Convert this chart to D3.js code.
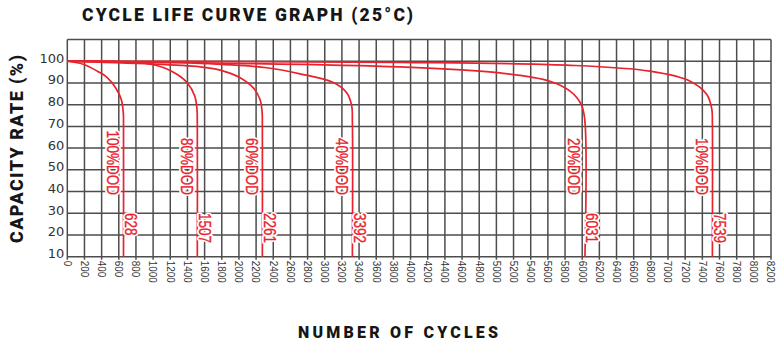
<!DOCTYPE html>
<html>
<head>
<meta charset="utf-8">
<script src="https://cdn.jsdelivr.net/npm/d3@7"></script>
<style>
  body { margin: 0; background: #fff; }
  svg { display: block; }
</style>
</head>
<body>
<svg id="chart"></svg>
<script>
// tick labels
const xTickValues = [0, 200, 400, 600, 800, 1000, 1200, 1400, 1600, 1800, 2000, 2200, 2400, 2600, 2800,
  3000, 3200, 3400, 3600, 3800, 4000, 4200, 4400, 4600, 4800, 5000, 5200, 5400, 5600, 5800, 6000,
  6200, 6400, 6600, 6800, 7000, 7200, 7400, 7600, 7800, 8000, 8200];
const yTickValues = [10, 20, 30, 40, 50, 60, 70, 80, 90, 100];

// series
const dodLabels = ["100%DOD", "80%DOD", "60%DOD", "40%DOD", "20%DOD", "10%DOD"];
const cycleLife = [628, 1507, 2261, 3392, 6031, 7539];

// [cycles, capacity %]
const curve100 = [[0, 100], [195, 98.5], [350, 95.4], [466, 92.4], [564, 87.7], [629, 82.4], [653, 76], [655, 70], [655, 10]];
const curve80 = [[0, 100], [932, 98.9], [1127, 97], [1282, 93.9], [1398, 90.1], [1485, 84], [1511, 78], [1515, 71], [1515, 10]];
const curve60 = [[0, 100], [1547, 97.4], [1780, 95.9], [2013, 92.4], [2168, 87.7], [2246, 82.4], [2270, 76.5], [2273, 70], [2273, 10]];
const curve40 = [[0, 100], [1547, 99], [2324, 97], [2712, 94.2], [3100, 90.2], [3256, 85.5], [3314, 79.5], [3322, 72], [3322, 10]];
const curve20 = [[0, 100], [1547, 99.3], [3877, 97.4], [5043, 94.6], [5625, 90.8], [5859, 86.2], [5990, 80], [6030, 73], [6032, 10]];
const curve10 = [[0, 100], [3877, 99.5], [5820, 98.2], [6791, 95.4], [7258, 90.8], [7452, 84.7], [7510, 78], [7517, 71], [7517, 10]];
const curves = [curve100, curve80, curve60, curve40, curve20, curve10];

const WIDTH = 781;
const HEIGHT = 352;
const MARGIN = { left: 67.3, right: 10, top: 39.5, bottom: 95.3 };

const svg = d3.select("#chart")
  .attr("width", WIDTH)
  .attr("height", HEIGHT);

svg.append("rect")
  .attr("width", "100%")
  .attr("height", "100%")
  .attr("fill", "white");

const x = d3.scaleLinear()
  .domain([0, 8200])
  .range([MARGIN.left, WIDTH - MARGIN.right]);

const y = d3.scaleLinear()
  .domain([10, 110])
  .range([HEIGHT - MARGIN.bottom, MARGIN.top]);

const GRID = "#4d4d4d";
const RED = "#e8232d";

// grid
const grid = svg.append("g");

grid.selectAll("line.v")
  .data(xTickValues)
  .join("line")
  .attr("class", "v")
  .attr("x1", d => x(d))
  .attr("x2", d => x(d))
  .attr("y1", y(110))
  .attr("y2", y(10) + 3)
  .attr("stroke", GRID)
  .attr("stroke-width", 1.5);

grid.selectAll("line.h")
  .data(yTickValues.concat([110]))
  .join("line")
  .attr("class", "h")
  .attr("x1", x(0))
  .attr("x2", x(8200))
  .attr("y1", d => y(d))
  .attr("y2", d => y(d))
  .attr("stroke", GRID)
  .attr("stroke-width", 1.5);

// y tick labels
svg.append("g").selectAll("text")
  .data(yTickValues)
  .join("text")
  .attr("x", x(0) - 3)
  .attr("y", d => y(d) - 3)
  .attr("text-anchor", "end")
  .attr("dominant-baseline", "central")
  .style("font-family", "'DejaVu Sans', sans-serif")
  .style("font-size", "13px")
  .style("fill", "#333")
  .text(d => d);

// x tick labels, rotated
svg.append("g").selectAll("text")
  .data(xTickValues)
  .join("text")
  .attr("transform", d => `translate(${x(d)},${y(10) + 4}) rotate(90) scale(0.9,1)`)
  .attr("text-anchor", "start")
  .attr("dominant-baseline", "central")
  .style("font-family", "'Liberation Sans', Arial, sans-serif")
  .style("font-size", "11px")
  .style("fill", "#333")
  .text(d => d);

// curves
const line = d3.line()
  .x(d => x(d[0]))
  .y(d => y(d[1]))
  .curve(d3.curveCatmullRom.alpha(0.5));

svg.append("g").selectAll("path")
  .data(curves)
  .join("path")
  .attr("d", line)
  .attr("fill", "none")
  .attr("stroke", RED)
  .attr("stroke-width", 1.7);

// labels next to each drop line: white halo layer first, red text on top
const dodTransform = (d, i) => {
  const last = curves[i][curves[i].length - 1];
  return `translate(${x(last[0]) - 10.5},${y(38.4)}) rotate(90) scale(0.82,1)`;
};
const cycTransform = (d, i) => {
  const last = curves[i][curves[i].length - 1];
  return `translate(${x(last[0]) + 7.5},${y(30.1)}) rotate(90) scale(0.82,1)`;
};

function drawLabels(layer, halo) {
  const g = svg.append("g")
    .style("font-family", "'Liberation Sans', Arial, sans-serif")
    .style("font-size", "16.5px")
    .style("fill", halo ? "white" : RED)
    .style("stroke", halo ? "white" : RED)
    .style("stroke-width", halo ? 4 : 0.35)
    .style("stroke-linejoin", "round");

  g.selectAll("text.dod")
    .data(dodLabels)
    .join("text")
    .attr("class", "dod")
    .attr("transform", dodTransform)
    .attr("text-anchor", "end")
    .attr("dominant-baseline", "central")
    .text(d => d);

  g.selectAll("text.cyc")
    .data(cycleLife)
    .join("text")
    .attr("class", "cyc")
    .attr("transform", cycTransform)
    .attr("text-anchor", "start")
    .attr("dominant-baseline", "central")
    .text(d => d);
}
drawLabels("halo", true);
drawLabels("text", false);

// titles
const titleStyle = sel => sel
  .style("font-family", "Roboto, 'DejaVu Sans', sans-serif")
  .style("font-weight", "900")
  .style("fill", "#161616")
  .attr("lengthAdjust", "spacing");

svg.append("text")
  .call(titleStyle)
  .attr("x", 82)
  .attr("y", 15)
  .attr("dominant-baseline", "central")
  .attr("textLength", 331)
  .style("font-size", "17.5px")
  .text("CYCLE LIFE CURVE GRAPH (25°C)");

svg.append("text")
  .call(titleStyle)
  .attr("transform", "translate(16,243) rotate(-90)")
  .attr("dominant-baseline", "central")
  .attr("textLength", 188)
  .style("font-size", "18px")
  .text("CAPACITY RATE (%)");

svg.append("text")
  .call(titleStyle)
  .attr("x", 298)
  .attr("y", 332)
  .attr("dominant-baseline", "central")
  .attr("textLength", 200)
  .style("font-size", "16px")
  .text("NUMBER OF CYCLES");
</script>
</body>
</html>
